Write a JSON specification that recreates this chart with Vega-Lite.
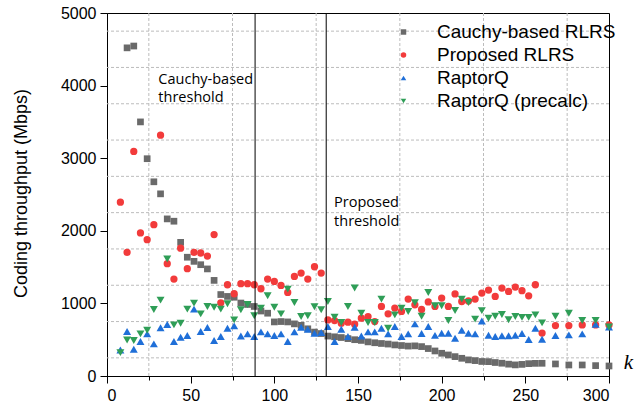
{
  "$schema": "https://vega.github.io/schema/vega-lite/v6.json",
  "width": 502,
  "height": 363,
  "autosize": {"type": "none"},
  "padding": {"left": 107, "top": 13, "right": 33, "bottom": 28},
  "background": "white",
  "config": {
    "view": {"stroke": "#000", "strokeWidth": 1},
    "axis": {
      "labelFont": "Liberation Sans",
      "labelFontSize": 16,
      "labelColor": "#000",
      "domainColor": "#000",
      "tickColor": "#000",
      "titleFont": "Liberation Sans",
      "titleFontWeight": "normal",
      "titleColor": "#000",
      "grid": false
    },
    "legend": {
      "orient": "none",
      "legendX": 287,
      "legendY": 9.5,
      "padding": 0,
      "symbolSize": 30,
      "labelFont": "Liberation Sans",
      "labelFontSize": 19,
      "labelColor": "#000",
      "labelOffset": 24,
      "rowPadding": 3,
      "labelLimit": 400,
      "symbolStrokeWidth": 0
    }
  },
  "datasets": {
    "ygrid": [{"v": 250}, {"v": 750}, {"v": 1250}, {"v": 1750}, {"v": 2250}, {"v": 2750}, {"v": 3250}, {"v": 3750}, {"v": 4250}, {"v": 4750}],
    "xgrid": [{"k": 25}, {"k": 75}, {"k": 125}, {"k": 175}, {"k": 225}, {"k": 275}],
    "cauchy": [
      {"k": 12, "v": 4520}, {"k": 16, "v": 4545}, {"k": 20, "v": 3500}, {"k": 24, "v": 2993}, {"k": 28, "v": 2675}, {"k": 32, "v": 2509}, {"k": 36, "v": 2164}, {"k": 40, "v": 2132}, {"k": 44, "v": 1841}, {"k": 48, "v": 1636}, {"k": 52, "v": 1579}, {"k": 56, "v": 1533}, {"k": 60, "v": 1475}, {"k": 64, "v": 1317}, {"k": 68, "v": 1122}, {"k": 72, "v": 1096}, {"k": 76, "v": 1085}, {"k": 80, "v": 1005}, {"k": 84, "v": 985}, {"k": 88, "v": 958}, {"k": 92, "v": 895}, {"k": 96, "v": 865}, {"k": 100, "v": 745}, {"k": 104, "v": 750}, {"k": 108, "v": 745}, {"k": 112, "v": 718}, {"k": 116, "v": 698}, {"k": 120, "v": 650}, {"k": 124, "v": 605}, {"k": 128, "v": 585}, {"k": 132, "v": 550}, {"k": 136, "v": 540}, {"k": 140, "v": 530}, {"k": 144, "v": 515}, {"k": 148, "v": 500}, {"k": 152, "v": 490}, {"k": 156, "v": 470}, {"k": 160, "v": 458}, {"k": 164, "v": 448}, {"k": 168, "v": 440}, {"k": 172, "v": 428}, {"k": 176, "v": 420}, {"k": 180, "v": 412}, {"k": 184, "v": 415}, {"k": 188, "v": 405}, {"k": 192, "v": 378}, {"k": 196, "v": 345}, {"k": 200, "v": 313}, {"k": 204, "v": 290}, {"k": 208, "v": 267}, {"k": 212, "v": 244}, {"k": 216, "v": 222}, {"k": 220, "v": 212}, {"k": 224, "v": 200}, {"k": 228, "v": 198}, {"k": 232, "v": 186}, {"k": 236, "v": 176}, {"k": 240, "v": 163}, {"k": 244, "v": 153}, {"k": 248, "v": 160}, {"k": 252, "v": 170}, {"k": 256, "v": 174}, {"k": 260, "v": 175}, {"k": 268, "v": 166}, {"k": 276, "v": 152}, {"k": 284, "v": 152}, {"k": 292, "v": 143}, {"k": 300, "v": 138}
    ],
    "proposed": [
      {"k": 8, "v": 2394}, {"k": 12, "v": 1703}, {"k": 16, "v": 3094}, {"k": 20, "v": 1971}, {"k": 24, "v": 1878}, {"k": 28, "v": 2085}, {"k": 32, "v": 3317}, {"k": 36, "v": 1547}, {"k": 40, "v": 1335}, {"k": 44, "v": 1760}, {"k": 48, "v": 1478}, {"k": 52, "v": 1703}, {"k": 56, "v": 1694}, {"k": 60, "v": 1652}, {"k": 64, "v": 1948}, {"k": 68, "v": 1008}, {"k": 72, "v": 1257}, {"k": 76, "v": 1133}, {"k": 80, "v": 1271}, {"k": 84, "v": 1271}, {"k": 88, "v": 1257}, {"k": 92, "v": 1202}, {"k": 96, "v": 1335}, {"k": 100, "v": 1303}, {"k": 104, "v": 1248}, {"k": 108, "v": 1151}, {"k": 112, "v": 1372}, {"k": 116, "v": 1418}, {"k": 120, "v": 1335}, {"k": 124, "v": 1505}, {"k": 128, "v": 1418}, {"k": 132, "v": 773}, {"k": 136, "v": 764}, {"k": 140, "v": 727}, {"k": 144, "v": 741}, {"k": 148, "v": 714}, {"k": 152, "v": 797}, {"k": 156, "v": 819}, {"k": 160, "v": 750}, {"k": 164, "v": 958}, {"k": 168, "v": 856}, {"k": 172, "v": 935}, {"k": 176, "v": 889}, {"k": 180, "v": 1059}, {"k": 184, "v": 980}, {"k": 188, "v": 916}, {"k": 192, "v": 1020}, {"k": 196, "v": 958}, {"k": 200, "v": 1073}, {"k": 204, "v": 958}, {"k": 208, "v": 1130}, {"k": 212, "v": 1026}, {"k": 216, "v": 1033}, {"k": 220, "v": 1059}, {"k": 224, "v": 1142}, {"k": 228, "v": 1183}, {"k": 232, "v": 1096}, {"k": 236, "v": 1211}, {"k": 240, "v": 1165}, {"k": 244, "v": 1225}, {"k": 248, "v": 1175}, {"k": 252, "v": 1105}, {"k": 256, "v": 1257}, {"k": 260, "v": 592}, {"k": 268, "v": 695}, {"k": 276, "v": 695}, {"k": 284, "v": 704}, {"k": 292, "v": 704}, {"k": 300, "v": 704}
    ],
    "raptorq": [
      {"k": 8, "v": 359}, {"k": 12, "v": 612}, {"k": 16, "v": 368}, {"k": 20, "v": 474}, {"k": 24, "v": 580}, {"k": 28, "v": 442}, {"k": 32, "v": 665}, {"k": 36, "v": 710}, {"k": 40, "v": 474}, {"k": 44, "v": 534}, {"k": 48, "v": 557}, {"k": 52, "v": 921}, {"k": 56, "v": 612}, {"k": 60, "v": 667}, {"k": 64, "v": 488}, {"k": 68, "v": 543}, {"k": 72, "v": 658}, {"k": 76, "v": 690}, {"k": 80, "v": 552}, {"k": 84, "v": 580}, {"k": 88, "v": 543}, {"k": 92, "v": 608}, {"k": 96, "v": 580}, {"k": 100, "v": 557}, {"k": 104, "v": 580}, {"k": 108, "v": 474}, {"k": 112, "v": 608}, {"k": 116, "v": 672}, {"k": 120, "v": 645}, {"k": 124, "v": 589}, {"k": 128, "v": 598}, {"k": 132, "v": 681}, {"k": 136, "v": 474}, {"k": 140, "v": 645}, {"k": 144, "v": 543}, {"k": 148, "v": 672}, {"k": 152, "v": 552}, {"k": 156, "v": 608}, {"k": 160, "v": 608}, {"k": 164, "v": 658}, {"k": 168, "v": 580}, {"k": 172, "v": 681}, {"k": 176, "v": 543}, {"k": 180, "v": 580}, {"k": 184, "v": 718}, {"k": 188, "v": 585}, {"k": 192, "v": 681}, {"k": 196, "v": 560}, {"k": 200, "v": 589}, {"k": 204, "v": 589}, {"k": 208, "v": 520}, {"k": 212, "v": 630}, {"k": 216, "v": 589}, {"k": 220, "v": 580}, {"k": 224, "v": 757}, {"k": 228, "v": 562}, {"k": 232, "v": 543}, {"k": 236, "v": 555}, {"k": 240, "v": 555}, {"k": 244, "v": 562}, {"k": 248, "v": 585}, {"k": 252, "v": 502}, {"k": 256, "v": 658}, {"k": 260, "v": 506}, {"k": 268, "v": 559}, {"k": 276, "v": 566}, {"k": 284, "v": 580}, {"k": 292, "v": 711}, {"k": 300, "v": 676}
    ],
    "precalc": [
      {"k": 8, "v": 322}, {"k": 12, "v": 497}, {"k": 16, "v": 488}, {"k": 20, "v": 580}, {"k": 24, "v": 630}, {"k": 28, "v": 915}, {"k": 32, "v": 1045}, {"k": 36, "v": 1611}, {"k": 40, "v": 704}, {"k": 44, "v": 727}, {"k": 48, "v": 921}, {"k": 52, "v": 1004}, {"k": 56, "v": 856}, {"k": 60, "v": 958}, {"k": 64, "v": 948}, {"k": 68, "v": 921}, {"k": 72, "v": 994}, {"k": 76, "v": 773}, {"k": 80, "v": 912}, {"k": 84, "v": 985}, {"k": 88, "v": 829}, {"k": 92, "v": 935}, {"k": 96, "v": 1105}, {"k": 100, "v": 948}, {"k": 104, "v": 856}, {"k": 108, "v": 1197}, {"k": 112, "v": 1013}, {"k": 116, "v": 819}, {"k": 120, "v": 829}, {"k": 124, "v": 953}, {"k": 128, "v": 912}, {"k": 132, "v": 1026}, {"k": 136, "v": 810}, {"k": 140, "v": 737}, {"k": 144, "v": 958}, {"k": 148, "v": 1211}, {"k": 152, "v": 865}, {"k": 156, "v": 737}, {"k": 160, "v": 737}, {"k": 164, "v": 1059}, {"k": 168, "v": 658}, {"k": 172, "v": 842}, {"k": 176, "v": 935}, {"k": 180, "v": 889}, {"k": 184, "v": 1008}, {"k": 188, "v": 824}, {"k": 192, "v": 1151}, {"k": 196, "v": 967}, {"k": 200, "v": 967}, {"k": 204, "v": 764}, {"k": 208, "v": 902}, {"k": 212, "v": 1059}, {"k": 216, "v": 1013}, {"k": 220, "v": 783}, {"k": 224, "v": 900}, {"k": 228, "v": 795}, {"k": 232, "v": 824}, {"k": 236, "v": 847}, {"k": 240, "v": 774}, {"k": 244, "v": 820}, {"k": 248, "v": 808}, {"k": 252, "v": 808}, {"k": 256, "v": 842}, {"k": 260, "v": 732}, {"k": 268, "v": 824}, {"k": 276, "v": 865}, {"k": 284, "v": 764}, {"k": 292, "v": 764}, {"k": 300, "v": 676}
    ],
    "thresholds": [{"k": 88.5}, {"k": 131}],
    "notes": [
      {"k": 30.7, "v": 4019, "label": "Cauchy-based"},
      {"k": 30.7, "v": 3771, "label": "threshold"},
      {"k": 135.7, "v": 2330, "label": "Proposed"},
      {"k": 135.7, "v": 2062, "label": "threshold"}
    ]
  },
  "layer": [
    {
      "data": {"name": "ygrid"},
      "mark": {"type": "rule", "color": "#bcbcbc", "strokeWidth": 1, "strokeDash": [3, 2]},
      "encoding": {
        "y": {
          "field": "v", "type": "quantitative",
          "scale": {"domain": [0, 5000], "nice": false},
          "axis": {
            "values": [0, 250, 500, 750, 1000, 1250, 1500, 1750, 2000, 2250, 2500, 2750, 3000, 3250, 3500, 3750, 4000, 4250, 4500, 4750, 5000],
            "format": "d",
            "labelExpr": "datum.value % 500 === 0 ? datum.label : ''",
            "tickSize": {"condition": {"test": "datum.value % 500 === 0", "value": 7}, "value": 4},
            "labelPadding": 4,
            "grid": false,
            "title": "Coding throughput (Mbps)",
            "titleFontSize": 18,
            "titleX": -86,
            "titleY": 180,
            "titleAngle": -90,
            "titleAlign": "center",
            "titleBaseline": "middle"
          }
        }
      }
    },
    {
      "data": {"name": "xgrid"},
      "mark": {"type": "rule", "color": "#bcbcbc", "strokeWidth": 1, "strokeDash": [3, 2]},
      "encoding": {
        "x": {
          "field": "k", "type": "quantitative",
          "scale": {"domain": [0, 300], "nice": false, "zero": false},
          "axis": {
            "values": [0, 25, 50, 75, 100, 125, 150, 175, 200, 225, 250, 275, 300],
            "format": "d",
            "labelExpr": "datum.value % 50 === 0 ? datum.label : ''",
            "tickSize": {"condition": {"test": "datum.value % 50 === 0", "value": 7}, "value": 4},
            "labelPadding": 4,
            "grid": false,
            "title": "k",
            "titleFont": "Liberation Serif",
            "titleFontStyle": "italic",
            "titleFontSize": 21,
            "titleX": 521,
            "titleY": -8,
            "titleAlign": "center",
            "titleBaseline": "alphabetic",
            "titleAngle": 0
          }
        }
      }
    },
    {
      "data": {"name": "cauchy"},
      "mark": {"type": "point", "filled": true, "opacity": 1, "size": 45},
      "encoding": {
        "x": {"field": "k", "type": "quantitative"},
        "y": {"field": "v", "type": "quantitative"},
        "color": {
          "datum": "Cauchy-based RLRS", "type": "nominal",
          "scale": {
            "domain": ["Cauchy-based RLRS", "Proposed RLRS", "RaptorQ", "RaptorQ (precalc)"],
            "range": ["#6a6a6a", "#f23b3b", "#1f6fd8", "#2f9e57"]
          },
          "legend": {"title": null}
        },
        "shape": {
          "datum": "Cauchy-based RLRS", "type": "nominal",
          "scale": {
            "domain": ["Cauchy-based RLRS", "Proposed RLRS", "RaptorQ", "RaptorQ (precalc)"],
            "range": ["square", "circle", "triangle-up", "triangle-down"]
          },
          "legend": {"title": null}
        }
      }
    },
    {
      "data": {"name": "proposed"},
      "mark": {"type": "point", "filled": true, "opacity": 1, "size": 53},
      "encoding": {
        "x": {"field": "k", "type": "quantitative"},
        "y": {"field": "v", "type": "quantitative"},
        "color": {"datum": "Proposed RLRS", "type": "nominal"},
        "shape": {"datum": "Proposed RLRS", "type": "nominal"}
      }
    },
    {
      "data": {"name": "raptorq"},
      "mark": {"type": "point", "filled": true, "opacity": 1, "size": 64},
      "encoding": {
        "x": {"field": "k", "type": "quantitative"},
        "y": {"field": "v", "type": "quantitative"},
        "color": {"datum": "RaptorQ", "type": "nominal"},
        "shape": {"datum": "RaptorQ", "type": "nominal"}
      }
    },
    {
      "data": {"name": "precalc"},
      "mark": {"type": "point", "filled": true, "opacity": 1, "size": 64},
      "encoding": {
        "x": {"field": "k", "type": "quantitative"},
        "y": {"field": "v", "type": "quantitative"},
        "color": {"datum": "RaptorQ (precalc)", "type": "nominal"},
        "shape": {"datum": "RaptorQ (precalc)", "type": "nominal"}
      }
    },
    {
      "data": {"name": "thresholds"},
      "mark": {"type": "rule", "color": "#000", "strokeWidth": 1},
      "encoding": {
        "x": {"field": "k", "type": "quantitative"}
      }
    },
    {
      "data": {"name": "notes"},
      "mark": {"type": "text", "align": "left", "baseline": "alphabetic", "font": "Open Sans", "fontSize": 14.5, "color": "#000"},
      "encoding": {
        "x": {"field": "k", "type": "quantitative"},
        "y": {"field": "v", "type": "quantitative"},
        "text": {"field": "label"}
      }
    }
  ]
}
